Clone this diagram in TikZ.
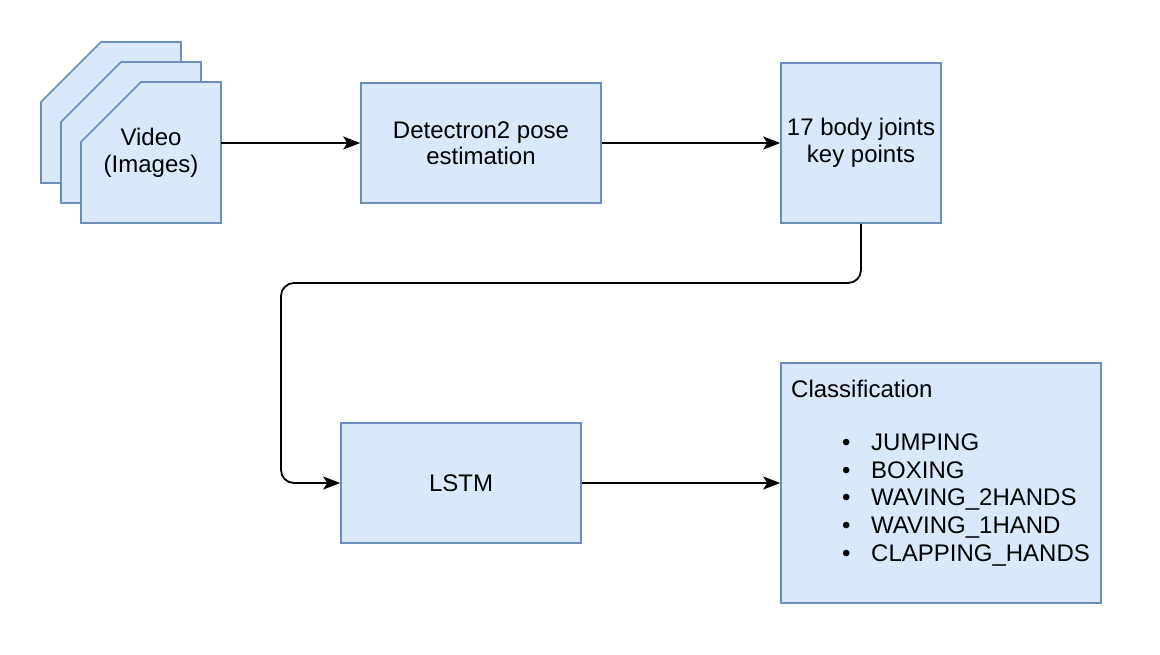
\documentclass[tikz,border=0pt]{standalone}
\usepackage{fontspec}
\setmainfont{Liberation Sans}
\usetikzlibrary{arrows.meta}
\begin{document}
\begin{tikzpicture}[x=1pt,y=-1pt,
  box/.style={draw=boxline,fill=boxfill,line width=1.6pt,inner sep=0pt,align=center},
  card/.style={draw=boxline,fill=boxfill,line width=1.6pt,line join=miter},
  conn/.style={draw=black,line width=1.8pt,-{Stealth[length=17pt,width=13pt,inset=4pt]}},
  lbl/.style={inner sep=0pt,anchor=base west},
  every node/.style={font=\fontsize{24}{26.5}\selectfont}]
\definecolor{boxline}{HTML}{6C8EBF}
\definecolor{boxfill}{HTML}{DAE8FC}
\useasboundingbox (0,0) rectangle (1160,654);
% card stack
\draw[card] (41,183) -- (41,102) -- (101,42) -- (181,42) -- (181,183) -- cycle;
\draw[card] (61,203) -- (61,122) -- (121,62) -- (201,62) -- (201,203) -- cycle;
\draw[card] (81,223) -- (81,142) -- (141,82) -- (221,82) -- (221,223) -- cycle;
\node[inner sep=0pt,minimum width=140pt,minimum height=141pt,align=center] (video) at (151,153) {Video\\(Images)};
% boxes
\node[box,minimum width=240pt,minimum height=120pt] (det) at (481,143) {Detectron2 pose\\estimation};
\node[box,minimum width=160pt,minimum height=160pt] (kp) at (861,143) {17 body joints\\key points};
\node[box,minimum width=240pt,minimum height=120pt] (lstm) at (461,483) {LSTM};
\node[box,minimum width=320pt,minimum height=240pt] (cls) at (941,483) {};
% classification text
\node[lbl] (c0) at (791,397) {Classification};
\node[lbl] (c1) at (842,450) {\makebox[29pt][l]{•}JUMPING};
\node[lbl] (c2) at (842,478) {\makebox[29pt][l]{•}BOXING};
\node[lbl] (c3) at (842,505.5) {\makebox[29pt][l]{•}WAVING\_2HANDS};
\node[lbl] (c4) at (842,533.5) {\makebox[29pt][l]{•}WAVING\_1HAND};
\node[lbl] (c5) at (842,561.5) {\makebox[29pt][l]{•}CLAPPING\_HANDS};
% connectors
\coordinate (turn) at (281,283);
\draw[conn] (video.east |- det.west) -- (det.west);
\draw[conn] (det.east) -- (kp.west);
\draw[conn,rounded corners=13pt] (kp.south) |- (turn) |- (lstm.west);
\draw[conn] (lstm.east) -- (cls.west);
\end{tikzpicture}
\end{document}
